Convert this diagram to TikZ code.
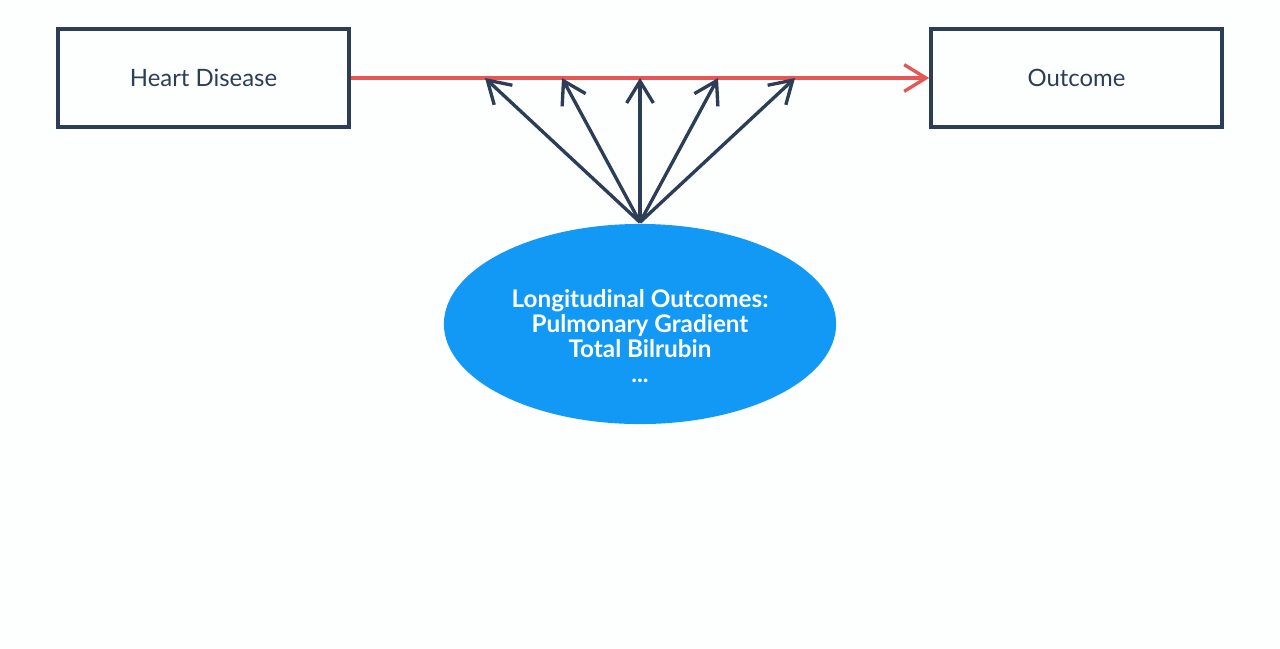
\documentclass[tikz,border=0pt]{standalone}
\usepackage{fontspec}
\setmainfont{Lato}
\usetikzlibrary{arrows.meta,shapes.geometric}
\definecolor{navy}{HTML}{2C3E57}
\definecolor{linkred}{HTML}{E85555}
\definecolor{ellblue}{HTML}{1199F5}
\definecolor{bg}{HTML}{FDFEFE}

\begin{document}
\begin{tikzpicture}[x=0.01cm, y=-0.01cm, line width=0.95pt,
    box/.style={draw=navy, line width=1pt, minimum width=2.91cm, minimum height=0.98cm, text=navy, font=\fontsize{6.8pt}{8pt}\selectfont},
    barb/.style={-{Straight Barb[length=6.2pt,width=7.6pt,line width=0.95pt]}}]
    \fill[bg] (0,0) rectangle (1280,648);
    \node[box] (heart) at (203.5,78) {Heart Disease};
    \node[box] (outcome) at (1076.5,78) {Outcome};
    \node[ellipse, fill=ellblue, minimum width=3.92cm, minimum height=2cm, inner sep=0pt] (longit) at (640,324) {};
    \node[text=white, align=center, font=\bfseries\fontsize{6.9pt}{7.1pt}\selectfont] (longtext) at (640,336)
          {Longitudinal Outcomes:\\Pulmonary Gradient\\Total Bilrubin\\...};
    \draw[barb, linkred] (heart.east) -- (outcome.west);
    % arrow tips on the red line
    \coordinate (t1) at (485,78);
    \coordinate (t2) at (562,78);
    \coordinate (t3) at (640,78);
    \coordinate (t4) at (718,78);
    \coordinate (t5) at (795,78);
    \foreach \t in {t1,t2,t3,t4,t5}
        \draw[barb, navy] (longit.north) -- (\t);
\end{tikzpicture}
\end{document}
